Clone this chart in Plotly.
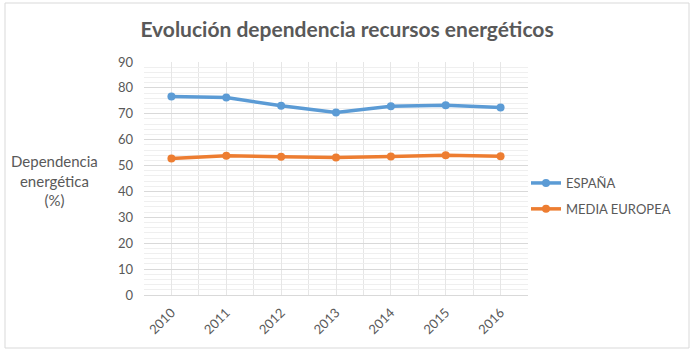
import plotly.graph_objects as go

years = [2010, 2011, 2012, 2013, 2014, 2015, 2016]
espana = [76.7, 76.3, 73.1, 70.5, 72.9, 73.3, 72.4]
media_europea = [52.7, 53.8, 53.4, 53.1, 53.5, 54.0, 53.6]

W, H = 694, 352
L, R, T, B = 144, 166, 62, 57
pw, ph = W - L - R, H - T - B

def px_x(x):
    return (x - L) / pw

def px_y(y):
    return (H - B - y) / ph

fig = go.Figure()
fig.add_trace(go.Scatter(x=years, y=espana, name="ESPAÑA", mode="lines+markers",
                         line=dict(color="#5B9BD5", width=3.5), marker=dict(size=8, color="#5B9BD5"),
                         legendgroup="a"))
fig.add_trace(go.Scatter(x=years, y=media_europea, name="MEDIA EUROPEA", mode="lines+markers",
                         line=dict(color="#ED7D31", width=3.5), marker=dict(size=8, color="#ED7D31"),
                         legendgroup="b"))

fig.update_layout(
    width=W, height=H,
    margin=dict(l=L, r=R, t=T, b=B),
    paper_bgcolor="white", plot_bgcolor="white",
    font=dict(family="Lato, Carlito, sans-serif", color="#595959", size=13),
    title=dict(text="<b>Evolución dependencia recursos energéticos</b>",
               x=px_x(351) if False else 0.5, xanchor="center", y=1 - 30 / H, yanchor="middle",
               font=dict(size=21, color="#595959")),
    showlegend=True,
    legend=dict(x=px_x(526), xanchor="left", y=px_y(168), yanchor="top",
                font=dict(size=13, color="#595959"), tracegroupgap=6,
                itemwidth=30, bgcolor="rgba(0,0,0,0)"),
    xaxis=dict(range=[2009.5, 2016.5], tickmode="array", tickvals=years,
               ticktext=[str(y) for y in years], tickangle=-45,
               showgrid=True, gridcolor="#E6E6E6", gridwidth=1,
               minor=dict(dtick=0.5, tick0=2009.5, showgrid=True, gridcolor="#E6E6E6", gridwidth=1),
               showline=True, linecolor="#D9D9D9", linewidth=1, zeroline=False,
               ticks="", ticklabelstandoff=4, tickfont=dict(size=13, color="#595959")),
    yaxis=dict(range=[0, 90], dtick=10, showgrid=True, gridcolor="#D9D9D9", gridwidth=1,
               minor=dict(dtick=2, showgrid=True, gridcolor="#EFEFEF", gridwidth=1),
               zeroline=False, showline=False, ticks="", ticklabelstandoff=10,
               tickfont=dict(size=13, color="#595959")),
)

fig.add_annotation(text="Dependencia<br>energética<br>(%)", xref="paper", yref="paper",
                   x=px_x(54), y=px_y(180), xanchor="center", yanchor="middle",
                   showarrow=False, font=dict(size=15, color="#595959"))

fig.add_shape(type="rect", xref="paper", yref="paper",
              x0=px_x(5), x1=px_x(689), y0=px_y(348), y1=px_y(3),
              line=dict(color="#D9D9D9", width=1), fillcolor="rgba(0,0,0,0)", layer="below")

fig.write_html("out.html")
